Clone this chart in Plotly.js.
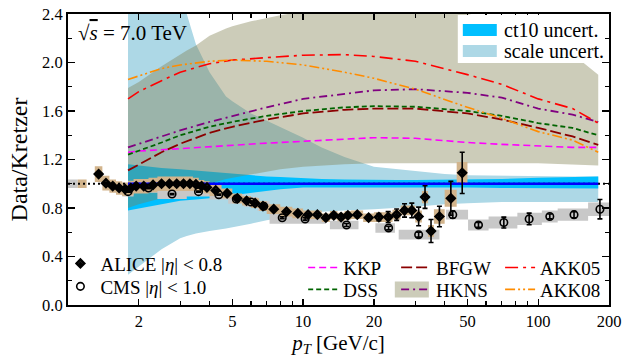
<!DOCTYPE html>
<html>
<head>
<meta charset="utf-8">
<script src="https://cdn.plot.ly/plotly-3.0.1.min.js"></script>
<style>
  html, body { margin: 0; padding: 0; background: #ffffff; }
  #chart { width: 623px; height: 357px; }
</style>
</head>
<body>
<div id="chart"></div>
<script>
// ---------- theory curves: ratio to the Kretzer fragmentation functions ----------
const curvePt = [1.8, 2, 2.5, 3, 4, 5, 7, 10, 15, 20, 30, 50, 70, 100, 140, 180];
const kkp   = [1.26, 1.27, 1.28, 1.29, 1.31, 1.32, 1.335, 1.35, 1.37, 1.38, 1.375, 1.34, 1.325, 1.31, 1.30, 1.30];
const dss   = [1.24, 1.27, 1.34, 1.40, 1.47, 1.51, 1.56, 1.60, 1.63, 1.64, 1.635, 1.60, 1.56, 1.50, 1.46, 1.40];
const bfgw  = [1.11, 1.16, 1.26, 1.33, 1.42, 1.47, 1.53, 1.58, 1.61, 1.62, 1.62, 1.58, 1.53, 1.46, 1.39, 1.32];
const hkns  = [1.30, 1.33, 1.39, 1.44, 1.51, 1.56, 1.63, 1.70, 1.74, 1.77, 1.78, 1.75, 1.71, 1.62, 1.57, 1.51];
const akk05 = [1.70, 1.76, 1.85, 1.92, 1.99, 2.02, 2.04, 2.06, 2.065, 2.05, 2.01, 1.90, 1.82, 1.70, 1.62, 1.50];
const akk08 = [1.86, 1.89, 1.95, 1.98, 2.01, 2.02, 2.01, 1.98, 1.92, 1.87, 1.78, 1.63, 1.54, 1.43, 1.36, 1.26];

// ---------- uncertainty bands ----------
const bandPt  = [1.8, 2, 2.5, 3, 3.2, 3.5, 4, 4.7, 5, 6, 7, 8, 10, 12, 15, 20, 25, 30, 40, 50, 70, 100, 140, 180];
const scaleLo = [0.25, 0.32, 0.46, 0.55, 0.57, 0.59, 0.61, 0.63, 0.64, 0.67, 0.70, 0.72, 0.75, 0.77, 0.78, 0.79, 0.80, 0.81, 0.83, 0.84, 0.85, 0.85, 0.85, 0.85];
const scaleHi = [2.8, 2.75, 2.65, 2.5, 2.4, 2.15, 1.92, 1.72, 1.68, 1.58, 1.52, 1.47, 1.38, 1.30, 1.22, 1.14, 1.12, 1.10, 1.08, 1.07, 1.065, 1.06, 1.06, 1.06];
const ct10Lo  = [0.78, 0.80, 0.83, 0.86, 0.865, 0.87, 0.88, 0.895, 0.90, 0.92, 0.94, 0.955, 0.97, 0.972, 0.975, 0.975, 0.972, 0.97, 0.97, 0.97, 0.965, 0.96, 0.96, 0.96];
const ct10Hi  = [1.16, 1.15, 1.13, 1.12, 1.115, 1.11, 1.10, 1.085, 1.08, 1.07, 1.06, 1.055, 1.045, 1.04, 1.035, 1.03, 1.03, 1.03, 1.032, 1.035, 1.04, 1.05, 1.055, 1.06];
const hknsLo  = [0.80, 0.83, 0.88, 0.93, 0.95, 0.97, 1.00, 1.04, 1.05, 1.08, 1.10, 1.12, 1.14, 1.15, 1.16, 1.17, 1.17, 1.17, 1.17, 1.17, 1.17, 1.17, 1.16, 1.15];
const hknsHi  = [1.79, 1.84, 1.97, 2.07, 2.10, 2.14, 2.22, 2.28, 2.30, 2.34, 2.37, 2.39, 2.42, 2.43, 2.44, 2.45, 2.45, 2.45, 2.43, 2.40, 2.33, 2.22, 2.07, 1.90];

// Kretzer reference (ratio = 1) and the overall unit line
const kretzerPt  = [1.8, 180];
const kretzerVal = [1, 1];
const unitPt  = [1, 200];
const unitVal = [1, 1];

// ---------- ALICE |eta| < 0.8 ----------
const aliceEdges = [1.3, 1.4, 1.5, 1.6, 1.7, 1.8, 1.9, 2.0, 2.2, 2.4, 2.6, 2.8, 3.0, 3.2, 3.4, 3.6, 3.8, 4.0, 4.5, 5.0,
                    5.5, 6.0, 6.5, 7, 8, 9, 10, 11, 12, 13, 14, 15, 16, 18, 20, 22, 24, 26, 28, 30, 32, 34, 36, 40, 45, 50];
const aliceRatio = [1.08, 1.005, 0.98, 0.965, 0.955, 0.965, 0.98, 0.98, 0.99, 1.0, 1.0, 1.0, 1.0, 1.0, 0.995, 0.98, 0.97, 0.945, 0.92, 0.88,
                    0.86, 0.84, 0.815, 0.79, 0.77, 0.755, 0.745, 0.745, 0.72, 0.74, 0.725, 0.74, 0.745, 0.72, 0.725, 0.725, 0.745, 0.78, 0.78, 0.73,
                    0.89, 0.61, 0.73, 0.88, 1.09];
const aliceStat  = [0.005, 0.005, 0.005, 0.005, 0.005, 0.005, 0.005, 0.005, 0.005, 0.005, 0.005, 0.005, 0.005, 0.005, 0.005, 0.005, 0.005, 0.005, 0.005, 0.005,
                    0.005, 0.005, 0.005, 0.006, 0.006, 0.008, 0.01, 0.01, 0.012, 0.012, 0.014, 0.015, 0.015, 0.02, 0.03, 0.045, 0.047, 0.055, 0.06, 0.077,
                    0.093, 0.095, 0.085, 0.14, 0.17];
const aliceSys   = [0.065, 0.06, 0.055, 0.055, 0.055, 0.06, 0.06, 0.06, 0.06, 0.06, 0.06, 0.06, 0.06, 0.06, 0.055, 0.05, 0.05, 0.045, 0.04, 0.04,
                    0.04, 0.04, 0.04, 0.04, 0.04, 0.04, 0.035, 0.035, 0.035, 0.035, 0.035, 0.035, 0.035, 0.035, 0.04, 0.04, 0.04, 0.04, 0.04, 0.05,
                    0.05, 0.05, 0.06, 0.07, 0.09];
const aliceBoxOnlyLo = [1.1], aliceBoxOnlyHi = [1.2], aliceBoxOnlyVal = [1.0], aliceBoxOnlySys = [0.035];

// ---------- CMS |eta| < 1.0 ----------
const cmsPt    = [1.8, 2.2, 2.77, 3.59, 4.38, 5.2, 6.0, 6.8, 8.15, 10.2, 15.3, 23.1, 31.0, 43.3, 55.7, 71.4, 91.5, 112, 142, 183];
const cmsLo    = [1.7, 2.0, 2.4, 3.2, 4.0, 4.8, 5.6, 6.4, 7.2, 9.6, 13.0, 20.3, 25.5, 40.5, 50.3, 61.5, 81.5, 103.6, 121, 163];
const cmsHi    = [1.9, 2.4, 3.2, 4.0, 4.8, 5.6, 6.4, 7.2, 9.6, 12.5, 17.2, 24.6, 38.0, 50.3, 61.5, 81.5, 103.6, 121, 163, 200];
const cmsRatio = [0.935, 0.965, 0.915, 0.935, 0.91, 0.875, 0.85, 0.815, 0.72, 0.71, 0.66, 0.635, 0.58, 0.745, 0.66, 0.68, 0.71, 0.73, 0.745, 0.79];
const cmsStat  = [0.005, 0.005, 0.005, 0.005, 0.005, 0.005, 0.005, 0.005, 0.008, 0.01, 0.012, 0.015, 0.02, 0.03, 0.02, 0.045, 0.048, 0.02, 0.025, 0.08];
const cmsSys   = [0.04, 0.04, 0.04, 0.04, 0.04, 0.04, 0.04, 0.04, 0.05, 0.04, 0.035, 0.04, 0.04, 0.04, 0.045, 0.05, 0.05, 0.05, 0.05, 0.055];
const cmsBoxOnlyLo = [1.0], cmsBoxOnlyHi = [1.1], cmsBoxOnlyVal = [1.0], cmsBoxOnlySys = [0.035];

// ---------- helpers ----------
function bandShape(pt, lo, hi) {
  return {
    x: pt.concat(pt.slice().reverse()),
    y: hi.concat(lo.slice().reverse())
  };
}
function sysBoxes(lo, hi, val, sys) {
  const xs = [], ys = [];
  for (let i = 0; i < val.length; i++) {
    const b = val[i] - sys[i], t = val[i] + sys[i];
    xs.push(lo[i], hi[i], hi[i], lo[i], lo[i], null);
    ys.push(b, b, t, t, b, null);
  }
  return { x: xs, y: ys };
}

const aliceLo = aliceEdges.slice(0, -1);
const aliceHi = aliceEdges.slice(1);
const alicePt = aliceLo.map((l, i) => 0.5 * (l + aliceHi[i]));

const scaleBand = bandShape(bandPt, scaleLo, scaleHi);
const ct10Band  = bandShape(bandPt, ct10Lo, ct10Hi);
const hknsBand  = bandShape(bandPt, hknsLo, hknsHi);
const aliceBox  = sysBoxes(aliceBoxOnlyLo.concat(aliceLo), aliceBoxOnlyHi.concat(aliceHi),
                           aliceBoxOnlyVal.concat(aliceRatio), aliceBoxOnlySys.concat(aliceSys));
const cmsBox    = sysBoxes(cmsBoxOnlyLo.concat(cmsLo), cmsBoxOnlyHi.concat(cmsHi),
                           cmsBoxOnlyVal.concat(cmsRatio), cmsBoxOnlySys.concat(cmsSys));

const SERIF = 'Liberation Serif, Times New Roman, serif';
const SCALE_BLUE = '#add8e6', CT10_BLUE = '#00bfff', HKNS_FILL = 'rgba(128,128,80,0.4)';

const theoryStyle = {
  kkp:   { color: '#ff00ff', dash: '7px,4px', width: 1.6 },
  dss:   { color: '#006400', dash: '5px,3px', width: 1.8 },
  bfgw:  { color: '#8b0000', dash: '11px,4px', width: 1.8 },
  hkns:  { color: '#800080', dash: '8px,4px,2px,4px', width: 1.8 },
  akk05: { color: '#ff0000', dash: '13px,5px,3px,5px', width: 1.6 },
  akk08: { color: '#ff8c00', dash: '10px,3px,2px,3px,2px,3px', width: 1.6 }
};

function curve(name, y, style, legend) {
  return {
    type: 'scatter', mode: 'lines', x: curvePt, y: y, name: name,
    line: style, legend: legend, hoverinfo: 'skip'
  };
}

const traces = [
  { type: 'scatter', mode: 'lines', x: scaleBand.x, y: scaleBand.y, fill: 'toself', name: 'scale uncert.',
    fillcolor: SCALE_BLUE, line: { width: 0 }, showlegend: false, hoverinfo: 'skip' },
  { type: 'scatter', mode: 'lines', x: ct10Band.x, y: ct10Band.y, fill: 'toself', name: 'ct10 uncert.',
    fillcolor: CT10_BLUE, line: { width: 0 }, showlegend: false, hoverinfo: 'skip' },
  { type: 'scatter', mode: 'lines', x: hknsBand.x, y: hknsBand.y, fill: 'toself',
    fillcolor: HKNS_FILL, line: { width: 0 }, showlegend: false, hoverinfo: 'skip' },
  { type: 'scatter', mode: 'lines', x: cmsBox.x, y: cmsBox.y, fill: 'toself',
    fillcolor: '#c8c8c8', line: { width: 0 }, showlegend: false, hoverinfo: 'skip' },
  { type: 'scatter', mode: 'lines', x: aliceBox.x, y: aliceBox.y, fill: 'toself',
    fillcolor: '#d2b48c', line: { width: 0 }, showlegend: false, hoverinfo: 'skip' },
  { type: 'scatter', mode: 'lines', x: unitPt, y: unitVal, showlegend: false,
    line: { color: '#000000', dash: '2px,3px', width: 1.8 }, hoverinfo: 'skip' },
  { type: 'scatter', mode: 'lines', x: kretzerPt, y: kretzerVal, showlegend: false,
    line: { color: '#0000ff', width: 2.5 }, hoverinfo: 'skip' },
  curve('KKP', kkp, theoryStyle.kkp, 'legend5'),
  curve('DSS', dss, theoryStyle.dss, 'legend6'),
  curve('BFGW', bfgw, theoryStyle.bfgw, 'legend7'),
  curve('HKNS', hkns, theoryStyle.hkns, 'legend8'),
  curve('AKK05', akk05, theoryStyle.akk05, 'legend9'),
  curve('AKK08', akk08, theoryStyle.akk08, 'legend10'),
  { type: 'scatter', mode: 'markers', x: cmsPt, y: cmsRatio, name: 'CMS |<i>η</i>| < 1.0',
    legend: 'legend2',
    marker: { symbol: 'circle-open', size: 7.5, color: '#000000', line: { width: 1.6, color: '#000000' } },
    error_y: { type: 'data', array: cmsStat, color: '#000000', thickness: 1.6, width: 2.5 }, hoverinfo: 'skip' },
  { type: 'scatter', mode: 'markers', x: alicePt, y: aliceRatio, name: 'ALICE |<i>η</i>| < 0.8',
    legend: 'legend',
    marker: { symbol: 'diamond-open-dot', size: 6, color: '#000000', line: { width: 2.4, color: '#000000' } },
    error_y: { type: 'data', array: aliceStat, color: '#000000', thickness: 1.6, width: 2.5 }, hoverinfo: 'skip' }
];

// one legend per entry, placed at its row (paper coordinates)
function entryLegend(x, y) {
  return {
    x: x, y: y, xanchor: 'left', yanchor: 'middle', bgcolor: 'rgba(0,0,0,0)', borderwidth: 0,
    font: { family: SERIF, size: 19, color: '#000000' }, itemwidth: 30
  };
}

// key text for the two uncertainty bands
function bandLabel(text, y) {
  return {
    xref: 'paper', yref: 'paper', x: 0.802, y: y, xanchor: 'left', yanchor: 'middle', showarrow: false,
    text: text, font: { family: SERIF, size: 20, color: '#000000' }
  };
}

const layout = {
  width: 623, height: 357,
  margin: { l: 68, r: 14, t: 14, b: 52 },
  paper_bgcolor: '#ffffff', plot_bgcolor: '#ffffff',
  font: { family: SERIF, size: 16, color: '#000000' },
  showlegend: true,
  xaxis: {
    type: 'log', range: [0, Math.log10(200)],
    tickvals: [2, 5, 10, 20, 50, 100, 200], ticktext: ['2', '5', '10', '20', '50', '100', '200'],
    ticks: 'inside', ticklen: 6, tickwidth: 1.3, tickcolor: '#000000',
    minor: { tickvals: [3, 4, 6, 7, 8, 9, 30, 40, 60, 70, 80, 90], ticks: 'inside', ticklen: 4, tickwidth: 1.2, tickcolor: '#000000' },
    showline: true, linewidth: 2, linecolor: '#000000', mirror: 'ticks',
    showgrid: false, zeroline: false,
    tickfont: { family: SERIF, size: 16.5 },
    title: { text: '<i>p</i><sub><i>T</i></sub> [GeV/c]', font: { family: SERIF, size: 21 }, standoff: 7 }
  },
  yaxis: {
    range: [0, 2.4],
    tickvals: [0, 0.4, 0.8, 1.2, 1.6, 2.0, 2.4], tickformat: '.1f',
    ticks: 'inside', ticklen: 7, tickwidth: 1.3, tickcolor: '#000000',
    minor: { tickvals: [0.2, 0.6, 1.0, 1.4, 1.8, 2.2], ticks: 'inside', ticklen: 4, tickwidth: 1.2, tickcolor: '#000000' },
    showline: true, linewidth: 2, linecolor: '#000000', mirror: 'ticks',
    showgrid: false, zeroline: false,
    tickfont: { family: SERIF, size: 16.5 },
    title: { text: 'Data/Kretzer', font: { family: SERIF, size: 24 }, standoff: 8 }
  },
  legend:   entryLegend(-0.014, 0.1424),
  legend2:  entryLegend(-0.014, 0.0635),
  legend5:  entryLegend(0.4347, 0.1286),
  legend6:  entryLegend(0.4347, 0.0532),
  legend7:  entryLegend(0.6065, 0.1286),
  legend8:  entryLegend(0.6065, 0.0532),
  legend9:  entryLegend(0.7987, 0.1286),
  legend10: entryLegend(0.7987, 0.0532),
  shapes: [
    // white panel behind the band key, with its colour swatches
    { type: 'rect', xref: 'paper', yref: 'paper', x0: 0.7205, x1: 0.9847, y0: 0.832, y1: 0.9966,
      fillcolor: '#ffffff', line: { width: 0 }, layer: 'above' },
    { type: 'rect', xref: 'paper', yref: 'paper', x0: 0.7298, x1: 0.7926, y0: 0.9245, y1: 0.9657,
      fillcolor: CT10_BLUE, line: { width: 0 }, layer: 'above' },
    { type: 'rect', xref: 'paper', yref: 'paper', x0: 0.7298, x1: 0.7926, y0: 0.8525, y1: 0.8937,
      fillcolor: SCALE_BLUE, line: { width: 0 }, layer: 'above' },
    // band swatch behind the HKNS legend line
    { type: 'rect', xref: 'paper', yref: 'paper', x0: 0.6041, x1: 0.667, y0: 0.0257, y1: 0.0806,
      fillcolor: HKNS_FILL, line: { width: 0 }, layer: 'above' }
  ],
  annotations: [
    { xref: 'paper', yref: 'paper', x: 0.015, y: 0.935, xanchor: 'left', yanchor: 'middle', showarrow: false,
      text: '√<span style="text-decoration:overline"><i>s</i></span> = 7.0 TeV', font: { family: SERIF, size: 21 } },
    bandLabel('ct10 uncert.', 0.945),
    bandLabel('scale uncert.', 0.873)
  ]
};

Plotly.newPlot('chart', traces, layout, { displayModeBar: false, staticPlot: true });
</script>
</body>
</html>
